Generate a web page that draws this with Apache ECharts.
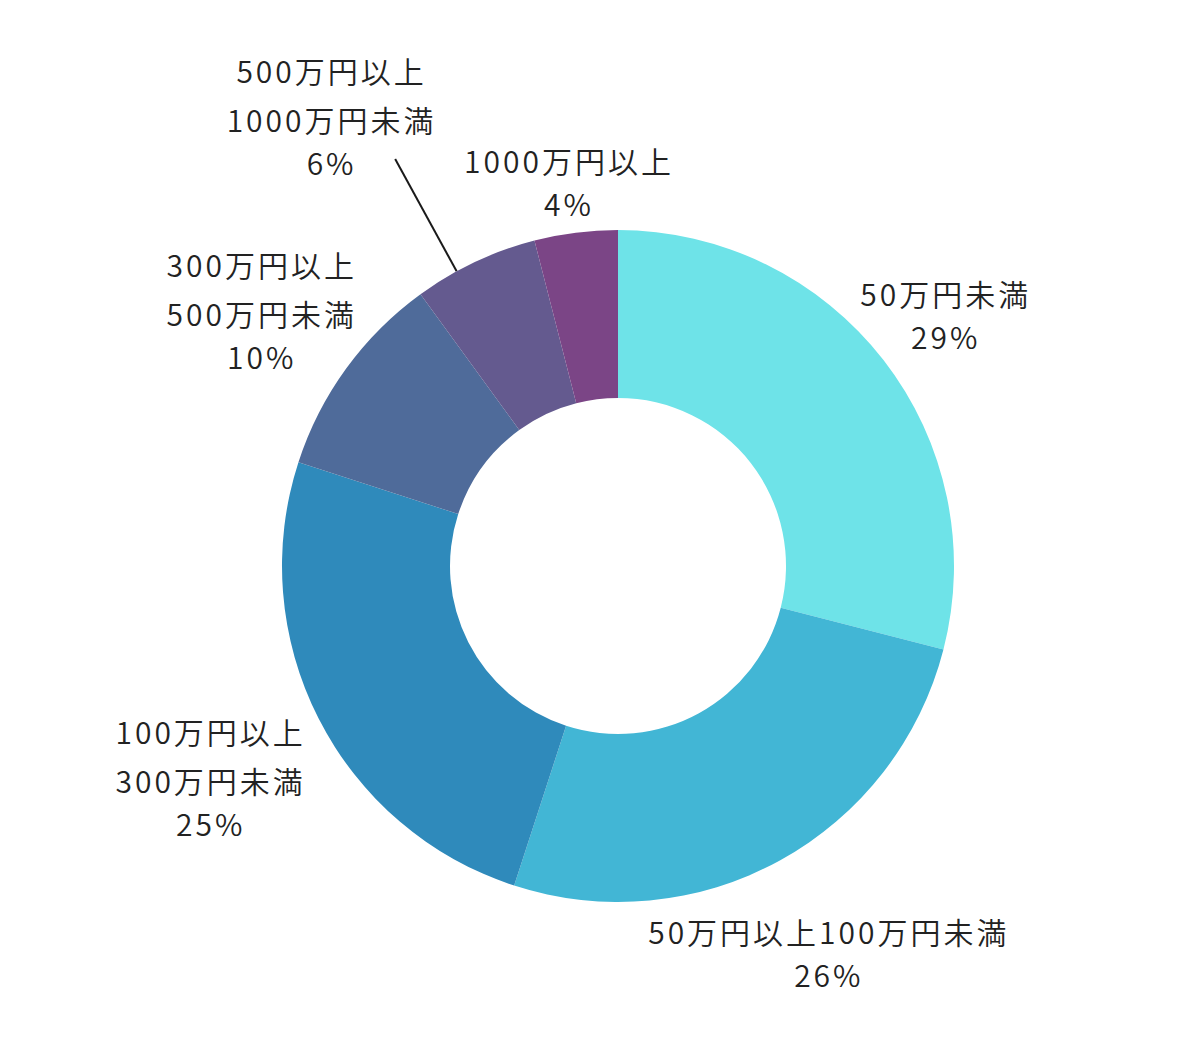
<!DOCTYPE html>
<html lang="ja">
<head>
<meta charset="utf-8">
<title>年収分布</title>
<script src="https://cdn.jsdelivr.net/npm/echarts@6/dist/echarts.min.js"></script>
<style>
  html, body { margin: 0; padding: 0; background: #fff; }
  #chart { width: 1200px; height: 1039px; }
  #chart text { letter-spacing: 3px; }
</style>
</head>
<body>
<div id="chart"></div>
<script>
// data
const categories = [
  '50万円未満',
  '50万円以上100万円未満',
  '100万円以上\n300万円未満',
  '300万円以上\n500万円未満',
  '500万円以上\n1000万円未満',
  '1000万円以上'
];
const shares = [29, 26, 25, 10, 6, 4];
const colors = ['#6ee3e8', '#42b6d5', '#2f8abb', '#4f6b9a', '#645a8f', '#7b4586'];

// layout
const CX = 618, CY = 566, R_IN = 168, R_OUT = 336;
const GAP = -4;                          // distance between ring and label box
const NUDGE = [0, -4, 22, 4, 0, 11];     // extra radial push per label
const LEADER = 4;                        // slice whose label hangs on a line
const LEADER_LEN = 128;
const LINE_TURN = -3.5 * Math.PI / 180;
const LABEL_TURN = -7.1 * Math.PI / 180;
const LEADER_DIST = 536;
const FONT = '"Noto Sans CJK JP", sans-serif';

const total = shares.reduce((a, b) => a + b, 0);
// middle angle of each slice, clockwise from 12 o'clock
const midAngles = [];
let acc = 0;
shares.forEach(v => {
  midAngles.push((acc + v / 2) / total * Math.PI * 2);
  acc += v;
});

const at = (a, r) => [CX + Math.sin(a) * r, CY - Math.cos(a) * r];

const chart = echarts.init(document.getElementById('chart'), null, { renderer: 'svg' });

const option = {
  backgroundColor: '#fff',
  animation: false,
  series: [{
    type: 'pie',
    center: [CX, CY],
    radius: [R_IN, R_OUT],
    startAngle: 90,
    clockwise: true,
    avoidLabelOverlap: false,
    itemStyle: { borderWidth: 0 },
    emphasis: { disabled: true },
    label: {
      show: true,
      position: 'outside',
      fontFamily: FONT,
      color: '#222',
      formatter: p => p.name.split('\n').map(s => '{n|' + s + '}').join('\n') + '\n{p|' + p.value + '%}',
      rich: {
        n: { fontSize: 30, fontWeight: 350, lineHeight: 49, align: 'center', color: '#222', fontFamily: FONT },
        p: { fontSize: 30, fontWeight: 350, lineHeight: 37, align: 'center', color: '#222', fontFamily: FONT }
      }
    },
    labelLine: { show: false, lineStyle: { color: '#1a1a1a', width: 2 } },
    labelLayout: p => {
      const i = p.dataIndex;
      const a = midAngles[i];
      if (i === LEADER) {
        const la = a + LINE_TURN, ta = a + LABEL_TURN;
        const c = at(ta, LEADER_DIST);
        return {
          x: c[0], y: c[1], align: 'center', verticalAlign: 'middle',
          labelLinePoints: [at(la, R_OUT), at(la, R_OUT + LEADER_LEN)]
        };
      }
      const dx = Math.sin(a), dy = -Math.cos(a);
      const he = Math.abs(dx) * p.labelRect.width / 2 + Math.abs(dy) * p.labelRect.height / 2;
      const c = at(a, R_OUT + GAP + he + NUDGE[i]);
      return { x: c[0], y: c[1], align: 'center', verticalAlign: 'middle' };
    },
    data: categories.map((name, i) => ({
      name,
      value: shares[i],
      itemStyle: { color: colors[i] },
      labelLine: { show: i === LEADER }
    }))
  }]
};

chart.setOption(option);
window.addEventListener('resize', () => chart.resize());
</script>
</body>
</html>
